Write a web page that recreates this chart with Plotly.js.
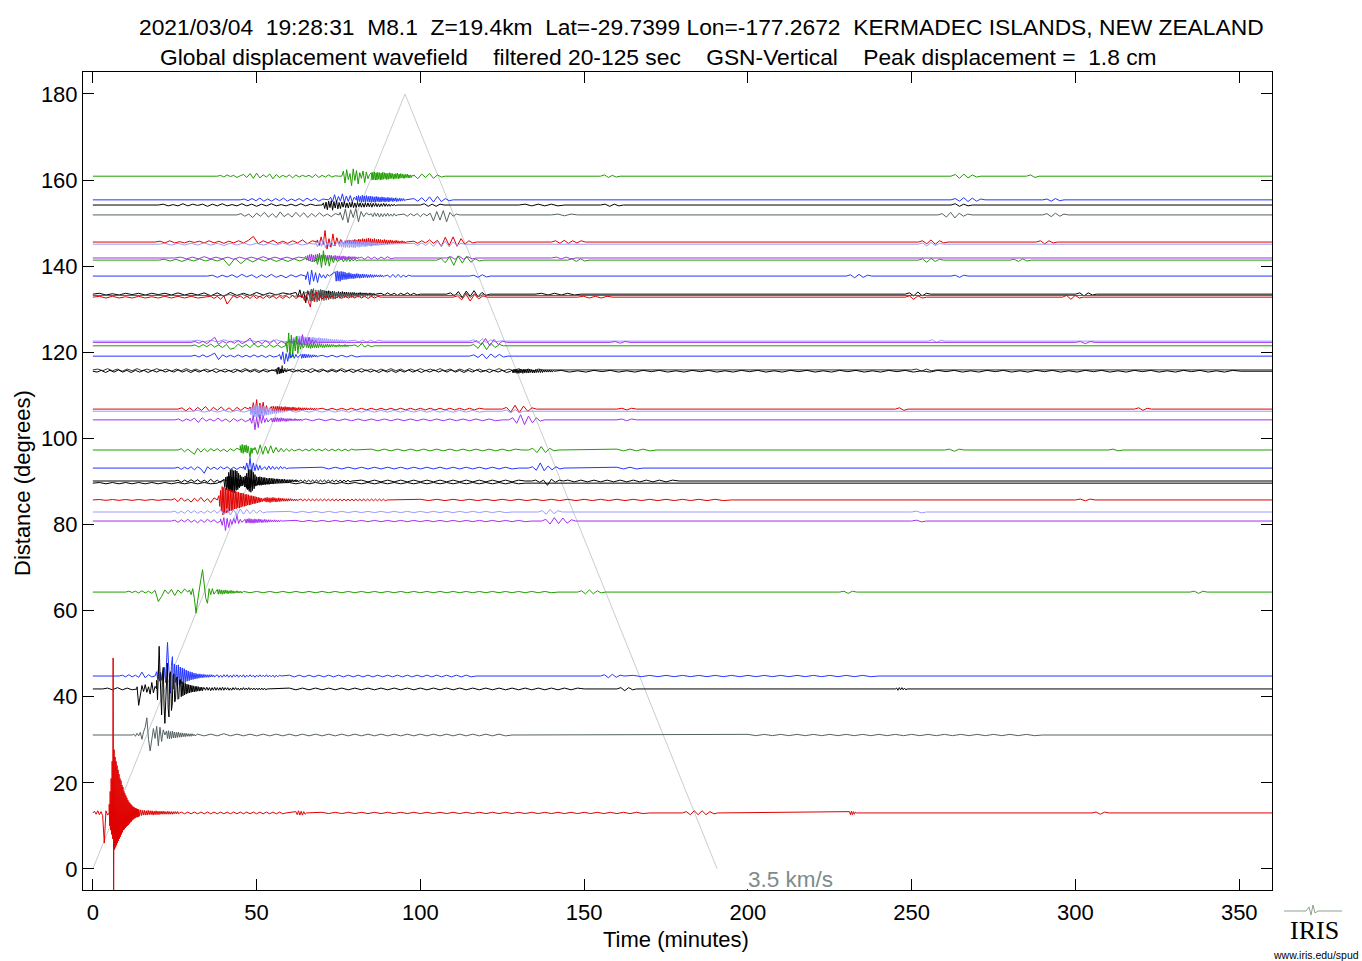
<!DOCTYPE html>
<html><head><meta charset="utf-8">
<script src="https://cdn.plot.ly/plotly-3.0.1.min.js"></script>
<style>html,body{margin:0;padding:0;background:#fff}#chart{width:1362px;height:961px}</style>
</head><body><div id="chart"></div>
<script>
// ---- DATA ----
// epicentral distance (degrees) of each station trace
const distances = [160.9,155.4,154.2,151.9,145.6,145.1,141.9,141.4,137.7,133.5,133.2,132.8,122.6,122.3,121.5,119.1,115.9,115.6,106.8,106.3,104.3,97.3,93.1,90.1,89.6,85.7,82.9,80.8,64.3,44.8,41.8,31.1,13.0];
// colour class of each trace
const traceClass = ['green','blue','black','gray','red','lavender','purple','green','blue','black','gray','red','lavender','purple','green','blue','dgray','black','red','lavender','purple','green','blue','black','black','red','lavender','purple','green','blue','black','gray','red'];
// wiggle packets: [start time (min), sample step (min), displacement (deg units)]
const w01 = [[38,1.0,[0,.2,-.2,.3,-.1,.2,-.3,.1,.4,-.3,.6,-.5,.7,-.4,.3,-.2,.5,-.6,.4,-.3,.2,-.2,.3,-.4,.3,-.2,.2,-.1,.2,-.3,.4,-.3,.2,-.2,.3,-.2,.1,0]],
 [76,0.5,[0,1.2,-1.6,1.5,-.8,.6,-2.2,1.7,-1.0,1.3,-1.8,.8,-.5,1.2,-1.5,1.0,-.6,.4]],
 [85,0.25,[.8,-.9,.9,-.8,1,-.9,.8,-.9,.9,-.7,.8,-.9,.7,-.8,.9,-.7,.8,-.6,.7,-.8,.6,-.7,.8,-.6,.7,-.5,.6,-.7,.5,-.6,.6,-.5,.7,-.6,.5,-.5,.6,-.4,.5,-.5,.4,-.5,.4,-.3,.5,-.4,.3,-.4,.3,-.3,.2,0]],
 [98,1.2,[.3,-.6,.5,-.3,.6,-.5,.3,-.2,0]],[155,1.2,[0,.3,-.3,.2,-.2,0]],[262,1.3,[0,.4,-.5,.5,-.4,.3,-.2,0]],[285,1.3,[0,.3,-.3,0]]];
const w02 = [[45,1.2,[0,.2,-.2,.3,-.2,.4,-.3,.2,-.3,.3,-.2,.4,-.3,.2,-.2,.3,-.3,.4,-.2,.3,-.3,.2,0]],
 [72,0.6,[0,.6,-.4,1.2,-.5,.8,-.3,1.4,-.6,.9,-.4,1.0,-.5,.6,0]],
 [80.5,0.3,[.9,-.5,1,-.4,.8,-.6,1.1,-.5,.9,-.6,1,-.4,.8,-.5,.9,-.6,.8,-.5,.7,-.6,.8,-.4,.7,-.5,.6,-.5,.7,-.4,.6,-.5,.5,-.4,.6,-.5,.5,-.3,.5,-.4,.4,-.3,.5,-.4,.3,-.3,.4,-.3,.3,-.2,.3,-.2,0]],
 [98,1.2,[.3,-.3,.5,-.4,.7,-.5,.8,-.4,.3,-.2,0]],[262,1.3,[0,.3,-.3,.5,-.4,.4,-.3,.2,0]],[290,1.3,[0,.2,-.3,.3,-.2,0]]];
const w03 = [[20,1.5,[0,.2,-.2,.1,-.2,.3,-.2,.2,-.1,.2,-.3,.2,-.2,.3,-.2,.1,-.2,.3,-.2,.2,-.3,.2,-.2,.3,-.2,.1,-.2,.2,-.2,.3,-.2,.2,-.1,0]],
 [70,0.4,[0,.5,-.8,.7,-1.1,.9,-.6,1.0,-1.2,.8,-.7,1.0,-.9,.6,-.8,.7,-.5,.8,-.6,.5,-.7,.6,-.5,.7,-.6,.5,-.6,.6,-.4,.5,-.5,.4,-.5,.5,-.4,.5,-.4,.4,-.5,.4,-.3,.4,-.4,.3,-.4,.3,-.3,.4,-.3,.3,-.3,.2,-.3,.2,-.2,.2,-.2,0]],
 [100,1.2,[0,.3,-.3,.2,-.3,.2,0]],[130,2,[0,.2,-.2,.2,-.2,.2,-.2,0]],[155,1.4,[0,.2,-.3,.2,-.2,0]],[262,1.3,[0,.3,-.3,.2,-.2,0]]];
const w04 = [[44,1.2,[0,.3,-.3,.2,-.6,.4,-.3,.6,-.5,.3,-.6,.7,-.4,.3,-.5,.6,-.4,.5,-.6,.3,-.4,.5,-.3,.2,-.4,.3,0]],
 [75.5,0.8,[.6,-1.2,1.4,-1.8,1.2,-.6,1.5,-1.6,.8,-.4,.5,0]],
 [85,0.5,[.3,-.4,.5,-.3,.4,-.5,.3,-.4,.3,-.3,.4,-.3,.2,-.3,.3,-.2,0]],
 [95,1.0,[.2,-.3,.3,-.2,.3,-.4,.3,-.2,.4,-1.4,.8,-1.2,1.0,-1.6,.6,-.3,.2,0]],
 [140,2,[0,.2,-.2,.2,0]],[258,1.3,[0,.3,-.5,.6,-.7,.4,-.3,.2,0]],[290,1.3,[0,.3,-.4,.4,-.3,.2,0]]];
const w05 = [[19,1.5,[0,.2,-.2,.3,-.2,.1,-.2,.2,-.1,.2,-.2,.3,-.2,.2,-.3,.2,-.2,.3,-.2,.4,1.3,-.4,.3,-.2,.4,-.3,.2,-.3,.3,-.2,.5,-.4,.3,0]],
 [68.5,0.6,[.5,-.8,1.2,-.6,2.7,-1.6,.8,-1.2,1.9,-.9,1.0,-.5,.6,-.4,0]],
 [77,0.3,[.3,-.4,.4,-.3,.5,-.4,.4,-.5,.5,-.4,.6,-.5,.5,-.6,.7,-.5,.6,-.7,.8,-.6,.7,-.8,.8,-.7,.9,-.7,.8,-.8,.7,-.6,.8,-.7,.6,-.6,.7,-.5,.6,-.6,.5,-.5,.6,-.4,.5,-.5,.4,-.4,.5,-.3,.4,-.4,.3,-.3,.4,-.3,.3,-.3,.2,-.2,.3,-.2,.2,-.2,0]],
 [98,1.2,[.2,-.3,.3,-.2,.5,-.3,.4,-1.0,1.1,-.8,1.2,-1.0,.8,-.5,.3,-.2,0]],
 [140,1.3,[0,.3,-.3,.4,-.3,.3,-.2,.3,0]],[252,1.3,[0,.3,-.4,.5,-.5,.3,-.2,0]],[288,1.3,[0,.3,-.4,.3,-.2,0]]];
const w06 = [[20,2,[0,.2,-.2,.2,-.2,.2,-.2,.3,-.2,.2,-.3,.2,-.2,.3,-.2,.2,-.2,.2,-.2,.3,-.2,.2,-.2,.2,0]],
 [68,0.6,[.4,-.6,.9,-.5,1.2,-.8,.5,-.6,.7,-.4,0]],
 [75,0.3,[.5,-.6,.7,-.7,.8,-.6,.7,-.8,.8,-.7,.9,-.8,.8,-.7,.9,-.8,.7,-.8,.8,-.6,.7,-.7,.6,-.6,.7,-.5,.6,-.6,.5,-.5,.6,-.4,.5,-.5,.4,-.4,.4,-.3,.4,-.3,.3,-.3,.3,-.2,.3,-.2,.2,-.2,0]],
 [98,1.2,[.2,-.3,.3,-.3,.4,-.5,.6,-.5,.7,-.6,.5,-.3,.2,0]],[252,1.3,[0,.3,-.4,.4,-.3,.2,0]]];
const w07 = [[25,1.8,[0,.2,-.2,.2,-.2,.3,-.2,.2,-.2,.2,-.3,.2,-.2,.2,-.2,.3,-.2,.2,-.2,.2,-.2,.2,0]],
 [65,0.3,[.4,-.5,.6,-.6,.8,-.7,.9,-.8,.7,-.9,.8,-.7,.9,-.8,.8,-.7,.7,-.8,.8,-.6,.7,-.7,.6,-.6,.7,-.5,.6,-.6,.5,-.5,.6,-.5,.5,-.4,.5,-.4,.4,-.4,.5,-.3,.4,-.4,.3,-.3,.4,-.3,.3,-.3,.3,-.2,.3,-.2,.2,-.2,.2,0]],
 [82,1.0,[.2,-.3,.3,-.2,.2,-.3,.2,-.2,.3,-.2,0]],[108,1.3,[0,.3,-.3,.4,-.3,.3,-.2,0]],[140,1.5,[0,.2,-.2,.2,-.2,0]]];
const w08 = [[20,1.8,[0,.2,-.2,.2,-.3,.2,-.2,.3,-.2,.2,-.2,.3,-1.3,.4,-.8,.3,-.4,.3,-.2,.3,-.3,.2,-.3,.3,-.2,.4,-.3,0]],
 [68,0.6,[.6,-1.0,1.6,-1.7,2.2,-1.2,.8,-1.4,1.0,-.6,.5,-.3,0]],
 [76,0.5,[.3,-.4,.3,-.3,.4,-.3,.3,-.2,.3,-.2,0]],
 [105,1.3,[0,.4,-.6,.8,-1.2,1.0,-.7,.9,-.5,.3,-.2,0]],[145,1.3,[0,.3,-.3,.3,-.2,0]],[252,1.3,[0,.3,-.5,.4,-.3,.2,0]],[280,1.3,[0,.2,-.3,.3,-.2,0]]];
const w09 = [[35,1.5,[0,.2,-.3,.2,-.2,.3,-.3,.4,-.2,.3,-.4,.3,-.3,.4,-.3,.2,-.4,.3,-.2,.3,0]],
 [65,0.6,[-.8,1.0,-2.0,1.4,-1.2,.8,-1.5,.6,-.4,.3,-.5,.4,0]],
 [74,0.3,[1.0,-1.2,1.2,-1.1,1.0,-1.2,1.1,-.9,1.0,-.8,.9,-.8,.7,-.7,.8,-.6,.6,-.6,.5,-.6,.5,-.5,.6,-.4,.5,-.5,.4,-.4,.5,-.4,.4,-.3,.4,-.4,.3,-.3,.4,-.3,.3,-.3,.3,-.2,.3,-.2,.2,-.2,.3,-.2,.2,-.2,0]],
 [90,0.8,[.2,-.3,.4,-.3,.4,-.3,.2,-.2,.2,0]],[115,1.3,[0,.2,-.3,.3,-.2,0]],[230,1.3,[0,.3,-.4,.4,-.3,.2,0]],[262,1.3,[0,.2,-.3,.2,0]]];
const w10 = [[0,2,[0,.2,-.2,.1,-.2,.2,-.1,.2,-.2,.2,-.1,.2,-.2,.3,-.2,.2,-.2,.3,-.4,.3,-.5,.4,-.3,.2,-.3,.4,-.2,.3,-.2,.3,0]],
 [62,0.6,[.4,-.6,1.0,-.8,.6,-2.0,.8,-.6,1.2,-.4,.3,0]],
 [69,0.3,[.8,-.9,1.0,-.8,.9,-1.0,.8,-.9,.7,-.8,.8,-.7,.6,-.7,.7,-.6,.6,-.6,.5,-.6,.6,-.5,.5,-.5,.6,-.4,.5,-.5,.5,-.4,.4,-.5,.4,-.4,.4,-.3,.4,-.4,.3,-.4,.3,-.3,.4,-.3,.3,-.3,.3,-.2,.3,-.3,.2,-.2,.3,-.2,.2,-.2,.2,-.2,0]],
 [88,1.0,[.2,-.2,.3,-.2,.2,-.3,.2,-.2,.3,-.2,.2,-.2,0]],
 [108,1.2,[0,.3,-.4,.6,-.8,.7,-.5,.8,-.6,.4,-.3,0]],[135,2,[0,.2,-.2,.2,-.2,.2,-.2,0]],[248,1.3,[0,.3,-.4,.5,-.4,.2,0]],[300,1.3,[0,.3,-.4,.3,-.2,0]]];
const w11 = [[40,1.8,[0,.2,-.2,.3,-.2,.2,-.3,.2,-.2,.3,-.2,.3,-.2,0]],
 [66,0.35,[1.0,-1.4,1.5,-1.3,1.6,-1.4,1.3,-1.5,1.2,-1.3,1.4,-1.1,1.2,-1.2,1.0,-1.1,.9,-1.0,.9,-.8,.8,-.9,.7,-.8,.7,-.6,.6,-.7,.6,-.5,.5,-.6,.5,-.5,.5,-.4,.4,-.5,.4,-.4,.4,-.3,.4,-.4,.3,-.3,.3,-.3,.3,-.2,.3,-.2,.2,-.2,.2,-.2,.2,-.2,0]],
 [110,1.3,[0,.3,-.5,.6,-.5,.4,-.3,.2,0]]];
const w12 = [[0,2,[0,.2,-.2,.2,-.2,.1,-.2,.2,-.2,.1,-.2,.2,-.2,.2,-.2,.2,-.2,0]],
 [36,1.0,[.2,-.3,.2,-.5,.3,-1.6,-.5,.4,-.2,.3,-.3,.2,-.3,.4,-.3,.2,-.3,.3,-.2,.3,-.3,.2,-.3,.3,-.2,.4,-.3,.2,0]],
 [64,0.6,[.5,-.8,.6,-1.0,-2.3,.8,-1.0,1.2,-.6,.5,-.4,0]],
 [71,1.0,[.3,-.3,.2,-.3,.2,-.3,.3,-.2,.2,-.2,.3,-.2,.2,-.3,.2,-.2,.2,0]],
 [110,1.3,[0,.3,-.6,.7,-.9,.6,-.4,.3,0]],[148,1.8,[0,.2,-.2,.2,-.2,.2,0]],[248,1.3,[0,.3,-.5,.3,-.2,0]],[296,1.3,[0,.4,-.5,.4,-.2,0]]];
const w13 = [[30,2,[0,.2,-.2,.2,-.2,.3,-.2,.2,-.2,.2,-.2,.2,-.2,.3,-.2,0]],
 [60,0.3,[.4,-.5,.6,-.6,.8,-.7,1.0,-.8,1.1,-.9,1.2,-.8,1.1,-.9,1.0,-.8,1.0,-.9,.9,-.8,.9,-.7,.8,-.8,.9,-.7,.8,-.7,.7,-.6,.8,-.6,.7,-.6,.6,-.5,.6,-.5,.6,-.5,.5,-.4,.5,-.4,.4,-.4,.4,-.3,.4,-.3,.3,-.3,.3,-.2,.3,-.2,.2,-.2,.2,0]],
 [80,1.2,[.2,-.2,.2,-.2,.2,-.2,.2,0]],[115,1.3,[0,.3,-.4,.5,-.4,.3,-.2,0]],[255,1.3,[0,.3,-.3,.2,0]]];
const w14 = [[30,1.2,[0,.2,-.2,.3,-.3,.4,1.2,-.5,.3,-.2,.3,-.2,.4,-.3,.2,1.0,-.4,.3,-.3,.4,-.3,.5,-.4,.3,-.3,.2,0]],
 [62,0.5,[.3,-.4,.8,-.5,1.8,-.6,.9,-.5,1.2,-.4,.6,-.3,.4,-.2,0]],
 [116,1.3,[0,.4,-.6,.9,-.8,.7,-.5,.3,0]],[158,1.5,[0,.2,-.2,.2,0]],[300,1.5,[0,.2,-.3,.2,0]]];
const w15 = [[30,1.2,[0,.2,-.3,.3,-.2,.4,-.3,.2,-.4,.3,-.8,-.5,.4,-.3,.3,-.4,.5,-.3,.2,-.4,.3,-.3,.2,-.4,0]],
 [59,0.4,[.8,-1.5,3.0,-2.9,2.5,-2.6,1.5,-1.2,2.2,-1.8,1.0,-.8,.6,-.5,0]],
 [65,0.3,[.5,-.4,.6,-.5,.5,-.6,.4,-.5,.5,-.4,.4,-.5,.4,-.4,.5,-.3,.4,-.4,.3,-.4,.3,-.3,.4,-.3,.3,-.3,.3,-.2,.3,-.2,.2,-.3,.2,-.2,.3,-.2,.2,-.2,.2,-.2,.3,-.2,.2,-.2,.2,0]],
 [80,1.0,[.2,-.2,.5,-.3,.2,-.2,0]],[115,1.3,[0,.3,-.6,.8,-.9,.6,-.4,.3,0]]];
const w16 = [[30,1.2,[0,.2,-.2,.3,-.2,.2,.7,-.8,.3,-.2,.2,-.2,.3,-.2,.2,-.2,.3,-.2,.2,-.3,.2,-.2,0]],
 [57,0.5,[.4,-.8,1.0,-1.8,.6,-1.2,.8,-.4,.6,-.5,.4,-.3,0]],
 [63.5,0.3,[.4,-.5,.5,-.4,.5,-.4,.4,-.3,.4,-.3,.3,-.3,.3,-.2,.3,-.2,.2,-.2,0]],
 [70,1.5,[.2,-.2,.2,-.2,.2,-.2,.2,-.2,0]],[115,1.3,[0,.3,-.3,.5,-.6,.5,-.3,.4,-.2,0]]];
const w17 = [[0,1.5,[0,.2,-.2,.3,-.2,.2,-.3,.2,-.2,.3,-.2,.2,-.2,.3,-.2,.2,-.3,.2,-.2,.3,-.2,.2,-.3,.2,-.2,.3,-.2,.2,-.3,.2,-.2,.3,-.2,.2,-.3,.2,-.2,0]],
 [57,0.4,[.5,-.8,1.0,-.6,.4,-.5,.3,0]],
 [61,1.5,[.2,-.3,.2,-.2,.3,-.2,.2,-.3,.2,-.2,.3,-.2,.2,-.2,.3,-.2,.2,-.3,.2,-.2,.3,-.2,.2,-.3,.2,-.2,.3,-.2,.2,-.2,.3,-.2,.2,-.3,.2,-.2,.3,-.2,.2,-.3,.2,-.2,.3,-.2,.2,-.2,.3,-.2,.2,-.3,.2,0]],
 [250,1.5,[0,.2,-.3,.2,-.2,0]]];
const w18 = [[0,1.3,[0,-.2,.2,-.3,.2,-.2,.3,-.2,.2,-.3,.2,-.2,.2,-.3,.2,-.2,.3,-.2,.2,-.2,.3,-.2,.2,-.3,.2,-.2,.3,-.2,.2,-.3,.2,-.2,.2,-.3,.2,-.2,.3,-.2,.2,-.3,.2,-.2,.3,0]],
 [56,0.3,[.4,-.7,.9,-.6,.5,-.4,.5,-.4,.3,0]],
 [60,1.3,[.2,-.2,.3,-.2,.2,-.3,.2,-.2,.3,-.2,.2,-.2,.3,-.2,.2,-.3,.2,-.2,.3,-.2,.2,-.3,.2,-.2,.2,-.3,.2,-.2,.3,-.2,.2,-.3,.2,-.2,.3,-.2,.2,-.2,.3,-.2,.2,-.3,.2,-.2,.3,-.2,.2,-.3,.2,-.2,.2,-.3,0]],
 [128,0.3,[.3,-.4,.5,-.4,.5,-.5,.4,-.5,.5,-.4,.4,-.5,.5,-.4,.4,-.4,.5,-.4,.4,-.3,.4,-.4,.3,-.4,.4,-.3,.3,-.3,.4,-.3,.3,-.3,.3,-.2,.3,-.2,.2,-.2,.3,-.2,.2,-.2,.2,0]],
 [143,2.5,[.2,-.2,.1,-.2,.2,-.1,.2,-.2,.1,-.2,.2,-.1,.2,-.2,.1,-.2,.2,-.1,.2,-.2,.1,-.2,.2,-.1,.2,-.2,.1,-.2,.2,-.1,.2,-.2,.1,-.2,.2,-.1,.2,-.2,.1,-.2,.2,-.1,.2,-.2,.1,-.2,.2,-.1,.2,-.2,.1,-.2,.2,-.1,.2,-.2,.1,-.2,.2,-.1,.2,-.2,.1,-.2,.2,-.1,.2,-.2,.1,-.2,.2,-.1,.2,-.2,.1,-.2,.2,-.1,.2,-.2,.1,-.2,.2,0]]];
const w19 = [[26,1.2,[0,.3,-.4,.3,-.5,.4,-.3,.6,-.5,.4,-.3,.5,-.4,.3,-.5,.4,-.3,.4,0]],
 [48,0.5,[.5,-.8,1.5,-1.2,2.2,-1.7,1.4,-1.0,1.6,-1.1,.8,-.6,0]],
 [54.5,0.3,[.6,-.5,.7,-.6,.6,-.5,.7,-.5,.6,-.5,.6,-.4,.5,-.5,.6,-.4,.5,-.4,.5,-.4,.4,-.4,.5,-.3,.4,-.4,.3,-.3,.4,-.3,.3,-.3,.3,-.2,.3,-.2,.3,-.2,.2,-.2,.3,-.2,.2,-.2,.2,-.2,.2,0]],
 [70,1.5,[.2,-.2,.2,-.2,.2,-.2,.2,-.2,.2,-.2,.2,-.2,.2,-.2,.2,-.2,.2,-.2,.2,-.2,.2,-.2,.2,-.2,.2,-.2,.2,-.2,.2,-.2,.2,-.2,.2,0]],
 [125,1.3,[0,.4,-.7,.9,-.8,.7,-.5,.3,0]],[160,1.5,[0,.2,-.2,.2,0]],[245,1.3,[0,.3,-.3,0]],[318,1.3,[0,.3,-.3,.2,0]]];
const w20 = [[30,2,[0,.2,-.2,.2,-.2,.2,-.2,.2,-.2,.2,0]],
 [48,0.3,[.6,-.8,1.0,-1.2,1.4,-1.3,1.5,-1.4,1.3,-1.5,1.4,-1.2,1.3,-1.1,1.2,-1.0,1.0,-.9,.9,-.8,.8,-.7,.7,-.6,.6,-.5,.5,-.5,.4,-.4,.4,-.3,.3,-.3,.3,-.2,.2,0]],
 [60,2,[.2,-.2,.2,-.2,.2,-.2,.2,-.2,.2,-.2,.2,-.2,.2,-.2,.2,-.2,.2,-.2,.2,-.2,.2,-.2,.2,-.2,.2,-.2,.2,-.2,.2,-.2,0]],
 [125,1.3,[0,.3,-.4,.4,-.3,0]]];
const w21 = [[25,1.2,[0,.2,-.3,.2,-.2,.4,-.6,.5,-.3,.2,-.3,.4,-.3,.2,-.5,.3,-.3,.2,-.4,0]],
 [48,0.5,[.4,-.8,1.0,-2.3,.6,-1.8,1.2,-.8,1.0,-.6,.4,-.5,0]],
 [54.5,0.3,[.4,-.5,.4,-.5,.5,-.4,.5,-.4,.4,-.4,.5,-.3,.4,-.3,.3,-.4,.3,-.3,.3,-.2,.3,-.2,.2,-.2,.3,-.2,.2,-.2,.2,-.2,.2,-.2,0]],
 [65,2,[.2,-.2,.2,-.2,.2,-.2,.2,-.2,.2,-.2,.2,-.2,.2,-.2,.2,-.2,.2,-.2,.2,-.2,.2,-.2,.2,-.2,.2,-.2,.2,-.2,.2,-.2,0]],
 [127,1.2,[0,.5,-.8,1.2,-1.1,.9,-.7,.5,-.3,0]],[160,1.5,[0,.2,-.2,.2,0]]];
const w22 = [[26,1.0,[0,.3,-.4,.2,-.3,-1.0,.4,-.5,.3,-.4,.3,-.2,.3,-.3,.2,-.4,.3,-.2,.4,0]],
 [45,0.3,[1.0,-.6,1.3,-.8,1.1,-.5,1.2,-.7,.9,-1.0,-1.8,.5,-.8,.4,0]],
 [49.5,0.8,[.6,-1.0,1.2,-1.0,.9,-.8,1.0,-.7,.6,-.5,.4,-.4,.3,-.3,.2,-.2,0]],
 [63,1.0,[.2,-.2,.2,-.2,.3,-.2,.2,-.2,.3,-.2,.2,-.2,.2,-.2,.2,-.2,.2,0]],
 [85,2,[.2,-.2,.2,-.2,.2,-.2,.2,-.2,.2,-.2,.2,-.2,.2,-.2,.2,-.2,.2,-.2,.2,-.2,.2,-.2,.2,0]],
 [133,1.3,[0,.4,-.6,.8,-.6,.4,-.2,0]],[160,2,[.2,-.2,.2,-.2,.2,-.2,0]],[260,1.5,[0,.2,-.3,.2,0]],[310,1.5,[0,.2,-.2,0]]];
const w23 = [[25,1.0,[0,.2,-.3,.2,-.2,.3,-.4,.3,-.2,-1.2,.3,-.3,.2,-.3,.3,-.2,.3,-.3,.2,-.3,.2,0]],
 [46,0.5,[.5,-.4,1.2,-.6,2.3,-.8,1.2,-.6,.8,-.5,.6,-.4,0]],
 [52.5,0.6,[.3,-.4,.5,-.3,.4,-.3,.3,-.3,.4,-.2,.3,-.2,0]],
 [70,2,[.2,-.2,.2,-.2,.2,-.2,.2,-.2,.2,-.2,.2,-.2,.2,-.2,.2,-.2,.2,-.2,.2,-.2,.2,-.2,.2,-.2,.2,-.2,.2,-.2,.2,-.2,0]],
 [133,1.2,[0,.3,-.5,1.2,-.6,.5,-.4,.3,-.2,0]],[160,2,[.2,-.2,.2,-.2,0]]];
const w24 = [[25,1.0,[0,.2,-.3,.2,-.2,.3,-.2,.3,-.3,.2,-.3,.4,-.3,.2,-.4,.3,0]],
 [41,0.25,[1.0,-1.5,2.0,-2.2,2.6,-2.5,2.7,-2.6,2.4,-2.7,2.5,-2.2,2.3,-2.0,1.8,-1.6,1.4,-1.2,1.0,-1.0,.9,-.8,1.2,-1.4,1.8,-2.0,2.6,-2.4,2.7,-2.6,2.4,-2.2,2.0,-1.8,1.5,-1.2,1.0,-1.0]],
 [50.5,0.25,[.9,-.9,1.0,-.8,.9,-.8,.8,-.7,.8,-.7,.7,-.7,.6,-.6,.7,-.6,.6,-.5,.6,-.5,.5,-.5,.5,-.4,.5,-.4,.4,-.4,.4,-.4,.4,-.3,.4,-.3,.3,-.3,.3,-.3,.3,-.3,.3,-.2,.3,-.2,.2,-.2,.3,-.2,.2,-.2,0]],
 [63.5,0.6,[.2,-.2,.2,-.2,.2,-.2,.2,-.2,.2,-.2,.2,-.2,.2,-.2,.2,-.2,.2,-.2,.2,-.2,.2,-.2,.2,-.2,.2,-.2,0]],
 [82,2,[.2,-.2,.2,-.2,.2,-.2,.2,-.2,.2,-.2,.2,-.2,.2,-.2,.2,-.2,.2,-.2,.2,-.2,.2,-.2,.2,-.2,.2,0]],
 [134,1.2,[0,.2,-.3,.2,-1.0,.4,-.3,.2,0]],[145,2,[.2,-.2,.2,-.2,.2,-.2,.2,-.2,.2,-.2,.2,-.2,.2,-.2,.2,-.2,.2,0]]];
const w25 = [[0,2,[0,.15,-.15,.15,-.15,.15,-.15,.15,-.15,.15,-.15,.15,-.15,.15,-.15,.15,-.15,.15,-.15,0]],
 [40,0.3,[.8,-1.0,1.4,-1.6,1.5,-1.8,1.6,-1.5,1.4,-1.7,1.5,-1.3,1.2,-1.1,1.0,-.9,.8,-.7,.7,-.6,.8,-.9,1.1,-1.2,1.3,-1.4,1.2,-1.1,1.0,-.9,.8,-.7,.6,-.5]],
 [50.5,0.3,[.5,-.5,.4,-.5,.4,-.4,.3,-.4,.3,-.3,.3,-.3,.2,-.2,.2,-.2,0]],
 [60,2,[.15,-.15,.15,-.15,.15,-.15,.15,-.15,.15,-.15,.15,-.15,.15,-.15,.15,-.15,.15,-.15,.15,-.15,.15,-.15,.15,-.15,.15,-.15,.15,-.15,.15,-.15,.15,-.15,.15,-.15,.15,-.15,0]]];
const w26 = [[0,2,[0,.1,-.1,.1,-.1,.1,-.1,.1,-.1,.1,-.1,.1,0]],
 [24,1.0,[0,.3,-.4,.5,-.3,.2,-.5,.4,-.3,.6,-.4,.3,-.6,.5,0]],
 [38.5,0.25,[1.0,-1.5,2.2,-2.5,3.1,-3.5,2.9,-3.2,2.8,-3.0,2.6,-2.9,2.5,-2.6,2.4,-2.5,2.2,-2.4,2.2,-2.1,2.0,-2.1,1.9,-1.8,1.8,-1.9,1.6,-1.7,1.6,-1.5,1.5,-1.5,1.3,-1.4,1.3,-1.2,1.2,-1.2,1.0,-1.1,1.0,-.9,.9,-.9,.8,-.8,.7,-.7,.6,-.6,.5,-.5,.4,-.4]],
 [52,0.3,[.3,-.3,.5,-.5,.6,-.5,.5,-.6,.5,-.5,.6,-.4,.5,-.5,.4,-.4,.5,-.4,.4,-.3,.4,-.3,.3,-.3,.3,-.3,.3,-.2,.3,-.2,.2,-.2,.2,-.2,.2,-.2,0]],
 [63.5,0.6,[.2,-.2,.2,-.2,.2,-.2,.2,-.2,.2,-.2,.2,-.2,.2,-.2,.2,-.2,.2,-.2,.2,-.2,.2,-.2,.2,-.2,.2,-.2,.2,-.2,.2,-.2,.2,-.2,.2,-.2,.2,-.2,.2,-.2,.2,-.2,.2,-.2,.2,-.2,0]],
 [100,2.5,[.15,-.15,.15,-.15,.15,-.15,.15,-.15,.15,-.15,.15,-.15,.15,-.15,.15,-.15,.15,-.15,.15,-.15,.15,-.15,.15,-.15,.15,-.15,.15,-.15,.15,-.15,.15,-.15,.15,-.15,.15,-.15,.15,-.15,0]],
 [300,1.5,[0,.2,-.2,.2,0]]];
const w27 = [[24,1.0,[0,.2,-.3,.2,-.3,.4,-.2,.3,-.3,.2,-.3,.3,-.2,.4,-.3,.5,-.6,.8,-.7,.6,-.8,.7,-.5,.6,-.4,.5,-.3,.4,-.2,0]],
 [60,2,[.15,-.15,.15,-.15,.15,-.15,.15,-.15,.15,-.15,.15,-.15,.15,-.15,.15,-.15,.15,-.15,.15,-.15,.15,-.15,.15,-.15,.15,-.15,.15,-.15,.15,-.15,.15,-.15,.15,-.15,0]],
 [136,1.2,[0,.3,-.5,.6,-.4,.3,0]],[250,1.5,[0,.2,-.2,0]]];
const w28 = [[24,1.0,[0,.2,-.3,.3,-.2,.4,-.3,.2,-.4,.3,-.3,.4,-.2,.3,-.4,0]],
 [39,0.5,[.5,-1.0,.8,-2.2,.6,-1.5,.4,-.8,.6,-.5,1.3,-.6,.4,-.3,0]],
 [46.5,0.3,[.4,-.5,.5,-.4,.6,-.5,.5,-.5,.4,-.5,.5,-.4,.4,-.4,.5,-.3,.4,-.4,.3,-.3,.4,-.3,.3,-.3,.3,-.2,.3,-.2,.2,-.2,.3,-.2,.2,-.2,.2,-.2,.2,0]],
 [62,2,[.15,-.15,.15,-.15,.15,-.15,.15,-.15,.15,-.15,.15,-.15,.15,-.15,.15,-.15,.15,-.15,.15,-.15,.15,-.15,.15,-.15,.15,-.15,.15,-.15,.15,-.15,.15,-.15,.15,-.15,.15,-.15,0]],
 [137,1.3,[0,.4,-.7,.8,-.6,.7,-.5,.3,0]],[250,1.5,[0,.2,-.2,0]]];
const w29 = [[10,1.0,[0,.2,-.1,.2,-.2,.3,-.2,.2,-.3,.4,-2.2,-1.0,.5,-.4,.6,-.8,.5,-.3,.7,0]],
 [29.5,0.5,[.5,-.6,.8,-1.5,-4.9,-2.0,1.2,3.0,5.2,1.0,-1.5,-2.6,.8,-.6,.8,-.5,0]],
 [38,0.3,[.6,-.5,.6,-.4,.5,-.5,.4,-.4,.5,-.3,.4,-.4,.3,-.3,.4,-.3,.3,-.3,.2,-.2,.3,-.2,.2,-.2,.2,-.2,0]],
 [46,2,[.15,-.15,.15,-.15,.15,-.15,.15,-.15,.15,-.15,.15,-.15,.15,-.15,.15,-.15,.15,-.15,.15,-.15,.15,-.15,.15,-.15,.15,-.15,.15,-.15,.15,-.15,.15,-.15,.15,-.15,.15,-.15,.15,-.15,.15,-.15,.15,-.15,.15,-.15,.15,-.15,.15,-.15,0]],
 [148,1.2,[0,.3,-.4,.5,-.4,.3,-.2,0]],[228,1.3,[0,.2,-.3,.2,0]],[335,1.3,[0,.2,-.3,.2,0]]];
const w30 = [[8,1.0,[0,.2,-.2,.3,-.2,.2,-.3,.9,-.4,.3,-.2,0]],
 [19.5,0.3,[1.0,-.8,2.2,-1.2,.8,-1.0,.5,-.6,2.0,-1.5,4.0,7.8,3.0,-2.0,-4.0,2.5,4.5,-3.0,2.8,-1.5,2.5,-2.2,2.6,-2.0,2.1,-1.8,1.9,-1.6,1.7,-1.5,1.4,-1.2,1.2,-1.1,1.0,-.9,.9,-.8,.7,-.7,.6,-.6,.5,-.5,.5,-.4,.4,-.4,.4,-.3,.3,-.3,.3,-.3,.3,-.2,.3,-.2,.2,-.2,0]],
 [38,0.5,[.3,-.3,.2,-.3,.3,-.2,.3,-.3,.2,-.3,.3,-.2,.3,-.3,.2,-.2,.3,-.3,.2,-.2,.3,-.2,.2,-.3,.2,-.2,.3,-.2,.2,-.2,.3,-.2,.2,-.2,.2,-.3,.2,-.2,.2,0]],
 [60,1.5,[.2,-.2,.2,-.2,.2,-.2,.2,-.2,.2,-.2,.2,-.2,.2,-.2,.2,-.2,.2,-.2,.2,-.2,.2,-.2,.2,-.2,.2,-.2,.2,-.2,.2,-.2,.2,-.2,.2,-.2,.2,-.2,.2,-.2,0]],
 [155,1.2,[0,.3,-.4,.4,-.3,.2,0]],[165,2.5,[.15,-.15,.15,-.15,.15,-.15,.15,-.15,.15,-.15,.15,-.15,.15,-.15,.15,-.15,.15,-.15,.15,-.15,.15,-.15,.15,-.15,.15,-.15,.15,-.15,.15,-.15,0]]];
const w31 = [[3,1.5,[0,.2,-.2,.3,-.2,.2,-.2,0]],
 [13.5,0.5,[.5,-3.8,-1.5,.8,-.6,1.0,-.8,.5,-1.2,1.5,-.9,.6,0]],
 [19.5,0.25,[2.0,-2.5,5.0,9.9,4.0,-3.0,-6.0,3.5,5.0,-4.0,-8.0,-3.0,4.5,6.0,-4.5,-6.5,3.5,4.0,-5.0,-3.5,3.0,3.5,-3.0,-2.5,2.5,2.8,-2.4,-2.2,2.0,2.2,-1.8,1.7,-1.6,1.5,-1.4,1.3,-1.2,1.1,-1.0,1.0,-.9,.9,-.8,.8,-.7,.7,-.7,.6,-.6,.6,-.5,.5,-.5,.4,-.4,.4,-.4,.3,0]],
 [34,0.4,[.3,-.3,.4,-.3,.3,-.4,.3,-.3,.4,-.3,.3,-.3,.3,-.3,.4,-.3,.3,-.2,.3,-.3,.2,-.3,.3,-.2,.3,-.2,.2,-.3,.2,-.2,.3,-.2,.2,-.2,.3,-.2,.2,-.2,.2,-.2,.2,-.2,.2,-.2,.2,-.2,.2,-.2,0]],
 [60,2,[.2,-.2,.2,-.2,.2,-.2,.2,-.2,.2,-.2,.2,-.2,.2,-.2,.2,-.2,.2,-.2,.2,-.2,.2,-.2,.2,-.2,.2,-.2,.2,-.2,.2,-.2,.2,-.2,.2,-.2,.2,-.2,.2,-.2,.2,-.2,.2,-.2,.2,-.2,.2,0]],
 [160,1.2,[0,.3,-.4,.3,-.2,0]],[245,0.4,[0,.2,-.3,.3,-.2,.3,-.2,.2,-.2,0]]];
const w32 = [[12,0.5,[0,.2,-.3,.4,-.2,.6,-1.0,.8,1.8,4.0,-1.0,-3.7,-1.2,1.5,-.8,2.0,-2.5,1.8,-1.5,1.2,0]],
 [22.5,0.3,[.9,-.8,1.0,-.9,.8,-.8,.9,-.7,.7,-.7,.6,-.6,.7,-.5,.5,-.5,.5,-.4,.4,-.4,.4,-.3,.3,-.3,.3,-.3,.3,-.2,.2,-.2,0]],
 [32,2,[.2,-.2,.2,-.2,.3,-.2,.2,-.2,.2,-.2,.2,-.2,.2,-.2,.2,-.2,.2,-.2,.2,-.2,.2,-.2,.2,-.2,.2,-.2,.2,-.2,.2,-.2,.2,-.2,.2,-.2,.2,-.2,.2,-.2,.2,-.2,.2,-.2,.2,-.2,.2,-.2,.2,-.2,0]],
 [200,2.5,[.15,-.15,.15,-.15,.15,-.15,.15,-.15,.15,-.15,.15,-.15,.15,-.15,.15,-.15,.15,-.15,.15,-.15,.15,-.15,.15,-.15,.15,-.15,.15,-.15,.15,-.15,.15,-.15,.15,-.15,.15,-.15,0]]];
const w33 = [[0,0.5,[0,.4,-.3,.5,-.4,.3,-.6,-7.0,.5,-.5,0]],
 [5,0.15,[2.0,-3.0,5.0,-4.0,8.0,-5.0,12.0,-6.0,36.0,-18.0,14.7,-8.5,13.0,-8.0,12.0,-7.5,11.0,-7.0,10.0,-6.5,9.0,-6.0,8.0,-5.5,7.5,-5.0,6.5,-4.5,6.0,-4.0,5.0,-3.8,4.5,-3.5,4.0,-3.2,3.5,-3.0,3.0,-2.8,2.6,-2.5,2.3,-2.2,2.0,-2.0,1.8,-1.7,1.5,-1.5,1.4,-1.3,1.2,-1.2,1.1,-1.0,1.0,-1.0,.9,-.9,.8,-.8,0]],
 [14.5,0.3,[.7,-.6,.6,-.5,.6,-.5,.5,-.5,.6,-.4,.5,-.4,.5,-.5,.4,-.4,.5,-.4,.4,-.4,.4,-.3,.4,-.3,.4,-.3,.3,-.3,.4,-.3,.3,-.3,.3,-.3,.3,-.2,.3,-.2,.3,-.2,0]],
 [27,1.0,[.2,-.2,.2,-.2,.2,-.2,.2,-.2,.2,-.2,.2,-.2,.2,-.2,.2,-.2,.2,-.2,.2,-.2,.2,-.2,.2,-.2,.2,-.2,.2,-.2,.2,-.2,.2,-.2,0]],
 [62,0.4,[.3,-.4,.5,-.5,.4,-.5,.3,-.3,0]],
 [70,2,[.15,-.15,.15,-.15,.15,-.15,.15,-.15,.15,-.15,.15,-.15,.15,-.15,.15,-.15,.15,-.15,.15,-.15,.15,-.15,.15,-.15,.15,-.15,.15,-.15,.15,-.15,.15,-.15,.15,-.15,.15,-.15,.15,-.15,.15,-.15,.15,-.15,.15,-.15,.15,-.15,.15,-.15,.15,-.15,0]],
 [180,1.2,[0,.3,-.4,.5,-.4,.5,-.4,.3,-.2,0]],
 [231,0.3,[.3,-.4,.4,-.4,.3,-.3,.2,0]],[305,1.3,[0,.2,-.3,.2,0]]];
const wiggles = [w01,w02,w03,w04,w05,w06,w07,w08,w09,w10,w11,w12,w13,w14,w15,w16,w17,w18,w19,w20,w21,w22,w23,w24,w25,w26,w27,w28,w29,w30,w31,w32,w33];

const recordEnd = 360;            // minutes of record shown
const waveSpeed = 3.5;            // km/s reference phase velocity
const kmPerDegree = 111.19;
const xTicks = [0,50,100,150,200,250,300,350];
const yTicks = [0,20,40,60,80,100,120,140,160,180];
const titleLine1 = '2021/03/04\u00a0\u00a019:28:31\u00a0\u00a0M8.1\u00a0\u00a0Z=19.4km\u00a0\u00a0Lat=-29.7399 Lon=-177.2672\u00a0\u00a0KERMADEC ISLANDS, NEW ZEALAND';
const titleLine2 = 'Global displacement wavefield\u00a0\u00a0\u00a0\u00a0filtered 20-125 sec\u00a0\u00a0\u00a0\u00a0GSN-Vertical\u00a0\u00a0\u00a0\u00a0Peak displacement =\u00a0\u00a01.8 cm';

// ---- STYLE ----
const palette = {green:'#1f9e00', blue:'#2436ff', black:'#000000', gray:'#566262', dgray:'#333333', red:'#e00000', lavender:'#9b9bff', purple:'#a52ef2'};
const FONT = 'Liberation Sans, Arial, sans-serif';

// ---- BUILD ----
const traces = [];
// 3.5 km/s reference curve (minor arc up to 180 deg, major arc back down)
const refDeg = [0, 180, 360];
traces.push({
  x: refDeg.map(d => d * kmPerDegree / waveSpeed / 60),
  y: refDeg.map(d => d <= 180 ? d : 360 - d),
  mode:'lines', line:{color:'#c9cdcd', width:1}, hoverinfo:'skip', showlegend:false
});
distances.forEach((dist, k) => {
  const x = [0], y = [dist];
  wiggles[k].forEach(([t0, dt, vals]) => {
    vals.forEach((v, i) => { x.push(t0 + i * dt); y.push(dist + v); });
  });
  x.push(recordEnd); y.push(dist);
  traces.push({x, y, mode:'lines', line:{color:palette[traceClass[k]], width:1}, hoverinfo:'skip', showlegend:false});
});

const axisCommon = {showgrid:false, zeroline:false, showline:true, linecolor:'#000', linewidth:1,
  mirror:'ticks', ticks:'inside', ticklen:11, tickcolor:'#000', tickwidth:1,
  tickfont:{family:FONT, size:22, color:'#000'}};

const px = v => (v - 83) / 1189, py = v => (890 - v) / 818;
const layout = {
  width:1362, height:961, paper_bgcolor:'#fff', plot_bgcolor:'#fff',
  margin:{l:83, r:90, t:72, b:71},
  xaxis: Object.assign({}, axisCommon, {range:[-3, 360], tickvals:xTicks, ticktext:xTicks.map(String), ticklabelstandoff:3}),
  yaxis: Object.assign({}, axisCommon, {range:[-4.9, 185.1], tickvals:yTicks, ticktext:yTicks.map(String)}),
  annotations:[
    {xref:'paper', yref:'paper', x:px(701), y:py(27), text:titleLine1, showarrow:false, xanchor:'center', yanchor:'middle', font:{family:FONT, size:22.8, color:'#000'}},
    {xref:'paper', yref:'paper', x:px(658), y:py(57), text:titleLine2, showarrow:false, xanchor:'center', yanchor:'middle', font:{family:FONT, size:22.8, color:'#000'}},
    {xref:'paper', yref:'paper', x:px(22), y:py(483), text:'Distance (degrees)', textangle:-90, showarrow:false, xanchor:'center', yanchor:'middle', font:{family:FONT, size:22, color:'#000'}},
    {xref:'paper', yref:'paper', x:px(676), y:py(939), text:'Time (minutes)', showarrow:false, xanchor:'center', yanchor:'middle', font:{family:FONT, size:22, color:'#000'}},
    {xref:'x', yref:'y', x:213, y:-2.44, text:waveSpeed.toFixed(1) + ' km/s', showarrow:false, xanchor:'center', yanchor:'middle', font:{family:FONT, size:22.5, color:'#7c8c8c'}},
    {xref:'paper', yref:'paper', x:px(1314), y:py(931), text:'IRIS', showarrow:false, xanchor:'center', yanchor:'middle', borderpad:0, font:{family:'Liberation Serif, serif', size:26, color:'#000'}},
    {xref:'paper', yref:'paper', x:px(1316), y:py(955.5), text:'www.iris.edu/spud', showarrow:false, xanchor:'center', yanchor:'middle', borderpad:0, font:{family:FONT, size:10.5, color:'#000'}}
  ],
  shapes:[
    // mask the bottom tick hidden behind the velocity label
    {type:'rect', xref:'paper', yref:'paper', layer:'above', x0:px(745), x1:px(750.5), y0:py(889.2), y1:py(876), line:{width:0}, fillcolor:'#fff'},
    // IRIS logo trace
    {type:'path', xref:'paper', yref:'paper', layer:'above', line:{color:'#8fa08f', width:1},
     path:'M'+px(1284)+','+py(911)+' L'+px(1306)+','+py(911)+' L'+px(1309)+','+py(907)+' L'+px(1311)+','+py(915)+' L'+px(1313)+','+py(905)+' L'+px(1315)+','+py(913)+' L'+px(1318)+','+py(911)+' L'+px(1342)+','+py(911)}
  ]
};
Plotly.newPlot('chart', traces, layout, {staticPlot:true, displayModeBar:false});
</script></body></html>
